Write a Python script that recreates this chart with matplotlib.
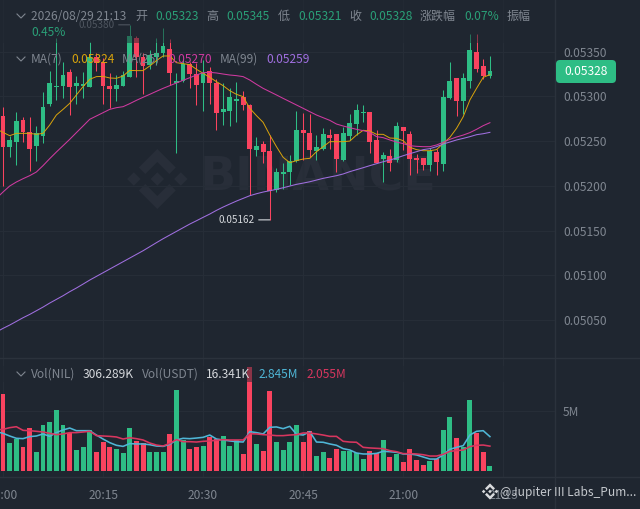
import matplotlib
matplotlib.use('Agg')
import matplotlib.pyplot as plt
from matplotlib.patches import FancyBboxPatch, Polygon, Rectangle
import numpy as np

plt.rcParams['font.family'] = ['Noto Sans CJK SC', 'DejaVu Sans']

# Prices are in units of 0.00001
opens = [5278,5243,5249,5274,5260,5245,5256,5291,5310,5312,5327,5312,5312,5311,5344,5338,5312,5308,5312,5322,
         5365,5344,5335,5344,5348,5353,5315,5317,5336,5325,5315,5328,5315,5283,5284,5295,5299,5290,5240,5247,
         5239,5195,5213,5215,5228,5262,5259,5239,5241,5257,5258,5229,5256,5269,5281,5283,5251,5230,5233,5229,
         5266,5258,5231,5231,5223,5238,5224,5298,5321,5295,5317,5350,5334,5323]
highs = [5288,5256,5283,5277,5277,5267,5305,5328,5365,5338,5331,5323,5327,5361,5348,5343,5326,5324,5328,5380,
         5368,5348,5352,5365,5377,5364,5326,5341,5339,5337,5341,5333,5320,5315,5309,5316,5306,5291,5255,5250,
         5257,5220,5226,5234,5284,5281,5280,5257,5265,5264,5258,5266,5280,5292,5290,5283,5263,5238,5241,5271,
         5266,5261,5236,5231,5242,5241,5307,5338,5321,5326,5370,5370,5342,5345]
lows = [5200,5232,5223,5249,5217,5228,5248,5289,5296,5298,5279,5291,5298,5311,5328,5292,5287,5295,5312,5322,
        5322,5303,5331,5335,5344,5313,5237,5316,5309,5290,5284,5291,5263,5268,5267,5271,5285,5190,5233,5225,
        5162,5193,5196,5201,5227,5229,5232,5229,5240,5241,5215,5228,5251,5257,5271,5237,5225,5204,5217,5227,
        5240,5212,5214,5218,5217,5212,5217,5297,5278,5280,5309,5327,5319,5321]
closes = [5243,5251,5273,5260,5241,5259,5288,5315,5312,5324,5311,5315,5314,5344,5337,5312,5308,5313,5324,5367,
          5344,5334,5346,5349,5356,5326,5317,5336,5325,5313,5326,5315,5282,5286,5299,5297,5290,5241,5245,5238,
          5194,5215,5215,5228,5262,5259,5240,5243,5258,5254,5230,5259,5270,5285,5283,5249,5226,5234,5226,5267,
          5261,5230,5229,5223,5239,5227,5299,5317,5295,5321,5352,5331,5323,5328]
# Moving averages start one minute before the first visible candle
ma7 = [5263.6,5259.8,5256.1,5258.7,5258.7,5258.7,5257.6,5258.7,5268,5279.2,5285.5,5292.2,5301.6,5310.9,5319.1,5322.1,5322.4,
       5320.6,5320.2,5322.8,5329.1,5328.8,5328.8,5334,5340,5345.2,5345.2,5337.7,5336.6,5335.5,5330.3,5325.8,5321.3,
       5316.5,5312,5306.4,5302.3,5299.7,5286.7,5278.5,5271,5256.8,5243.8,5231.9,5225.9,5228.2,5230,5230.8,5238.2,
       5243.8,5249.4,5249.4,5249.4,5250.1,5256.8,5262.1,5261.3,5257.6,5257.6,5253.5,5253.1,5250.5,5243.1,5240.5,
       5239.3,5239.3,5240.5,5247.5,5254.2,5264.3,5277.3,5296,5309,5321.3,5324.3]
ma25 = [5186,5193.1,5199.8,5204.3,5208,5211.4,5215.5,5222.6,5230.4,5237.8,5244.9,5252,5259.5,5266.9,5274.4,5278.1,5281.8,
        5285.5,5287.4,5288.5,5291.9,5295.6,5299,5302.3,5305.7,5309,5312,5315,5318,5320.9,5323.9,5326.5,5326.9,
        5326.2,5325,5323.9,5323.2,5322.1,5318.3,5313.5,5309,5305.3,5301.6,5297.8,5294.1,5290.4,5286.7,5282.9,5279.2,
        5276.2,5273.2,5269.1,5266.9,5265,5263.2,5261.7,5259.8,5255,5253.9,5251.3,5249,5247.2,5244.9,5244.2,5243.8,
        5243.8,5245.7,5248.7,5252,5254.6,5256.8,5259.5,5263.2,5267.3,5270.6]
ma99 = [5036.6,5040.7,5044.4,5048.5,5052.6,5056.3,5060.4,5064.5,5069,5073.1,5077.2,5081.7,5085.8,5090.2,5094.7,5098.8,5102.9,
        5107,5111.1,5115.2,5119.3,5123.4,5127.5,5132,5136.5,5140.9,5145,5149.1,5153.2,5157.3,5161,5164.8,5168.5,
        5172.6,5176.3,5179.7,5183,5186,5189,5191.2,5193.1,5194.6,5196.1,5197.9,5199.8,5201.7,5203.1,5204.6,5206.5,
        5208.4,5209.9,5211.4,5213.3,5215.9,5218.1,5220.3,5222.6,5224.8,5227,5228.9,5231.1,5233.7,5236,5238.2,5240.5,
        5241.6,5243.8,5246.8,5249,5251.3,5253.1,5255,5257.2,5258.3,5259.8]
# Volume in millions
volume = [6.35,2.29,2.62,1.99,3.56,1.60,3.81,4.06,5.08,3.81,3.18,1.74,1.99,3.40,1.57,2.43,1.99,1.85,1.52,3.56,
          2.49,2.29,1.55,1.55,1.55,3.09,6.69,2.57,1.80,1.96,2.10,2.79,2.65,2.90,2.07,2.57,1.44,8.65,2.21,1.69,
          6.63,2.43,1.77,2.40,3.84,2.43,3.31,1.27,1.55,1.10,1.82,1.63,1.69,1.46,0.99,1.66,1.46,2.54,1.19,1.38,
          0.75,1.80,0.91,0.50,0.83,0.99,3.40,4.48,2.73,2.02,5.88,3.18,1.60,0.39]
vol_ma_blue = [3.27,3.12,2.90,2.71,2.68,2.85,2.90,3.07,2.87,3.18,3.40,3.56,3.34,3.34,3.34,2.98,2.65,2.35,2.13,2.04,2.27,
               2.24,2.24,2.18,2.07,2.04,2.21,2.57,2.71,2.68,2.73,2.79,2.98,2.65,2.57,2.49,2.43,2.40,3.26,3.18,3.07,
               3.62,3.65,3.51,3.70,3.04,2.98,3.26,2.40,2.38,2.24,2.13,1.85,1.74,1.49,1.41,1.41,1.46,1.63,1.60,1.55,
               1.41,1.41,1.33,1.16,0.99,0.99,1.33,1.80,1.96,2.10,2.98,3.29,3.34,2.85]
vol_ma_red = [3.40,3.45,3.59,3.67,3.37,3.34,3.29,3.23,3.12,3.01,3.07,3.18,3.18,3.23,3.29,2.93,2.90,2.87,2.82,2.65,2.76,
              2.68,2.57,2.32,2.15,2.07,2.29,2.60,2.43,2.43,2.40,2.46,2.49,2.54,2.60,2.57,2.57,2.57,3.09,3.07,3.01,
              2.98,2.93,2.93,2.98,3.01,3.15,3.15,3.07,2.98,2.87,2.87,2.46,2.40,2.38,1.96,1.91,1.88,1.85,1.69,1.60,
              1.44,1.44,1.41,1.35,1.24,1.24,1.38,1.63,1.69,1.74,2.02,2.13,2.15,2.06]
price_ticks = [5050,5100,5150,5200,5250,5300,5350]
price_tick_labels = ['0.05050','0.05100','0.05150','0.05200','0.05250','0.05300','0.05350']
time_ticks = [0,15,30,45,60,75]
time_labels = ['20:00','20:15','20:30','20:45','21:00','21:15']

BG = '#1f2630'; GRID = '#262d37'; SEP = '#2b323c'
UP = '#2ebd85'; DOWN = '#f9435f'; GREY = '#7f8690'
VALG = '#2a9f77'
FS = 8.64

W, H = 640, 509
fig = plt.figure(figsize=(6.4, 5.09), dpi=100, facecolor=BG)

def rect(top, bottom, right=555):
    return [0, (H - bottom) / H, right / W, (bottom - top) / H]

under = fig.add_axes([0, 0, 1, 1], zorder=0, facecolor=BG)
under.set_xlim(0, W); under.set_ylim(H, 0); under.axis('off')
ax = fig.add_axes(rect(0, 358), zorder=1, facecolor='none')
vax = fig.add_axes(rect(358, 476.7), zorder=1, facecolor='none')
top = fig.add_axes([0, 0, 1, 1], zorder=3, facecolor='none')
top.set_xlim(0, W); top.set_ylim(H, 0); top.axis('off')

def logo(a, cx, cy, s, color, z=1):
    for dx in (-23.5, 0, 23.5):
        a.add_patch(Polygon([(cx+(dx)*s, cy-6.7*s), (cx+(dx+6.7)*s, cy), (cx+dx*s, cy+6.7*s), (cx+(dx-6.7)*s, cy)],
                            closed=True, fc=color, ec='none', zorder=z))
    for sg in (-1, 1):
        a.add_patch(Polygon([(cx, cy+sg*30*s), (cx+18.5*s, cy+sg*11.5*s), (cx+12*s, cy+sg*5*s), (cx, cy+sg*17*s),
                             (cx-12*s, cy+sg*5*s), (cx-18.5*s, cy+sg*11.5*s)],
                            closed=True, fc=color, ec='none', zorder=z))

# watermark below the candles
WM = '#282e39'
logo(under, 157.3, 179, 1.0, WM)
under.text(200, 178, 'BINANCE', color=WM, fontsize=34, fontweight='bold', family='DejaVu Sans', va='center', ha='left')

x = np.arange(len(closes))
x_ma = np.arange(-1, len(closes))
o, h, l, c = map(np.array, (opens, highs, lows, closes))
colors = [UP if cc >= oo else DOWN for oo, cc in zip(o, c)]
ax.vlines(x, l, h, colors=colors, lw=0.75, zorder=2)
ax.bar(x, np.maximum(np.abs(c - o), 1.5), bottom=np.minimum(o, c), width=0.72, color=colors, zorder=3)
ax.plot(x_ma, ma7, color='#d9a40c', lw=0.7, zorder=4)
ax.plot(x_ma, ma25, color='#cf3aa0', lw=0.75, zorder=4)
ax.plot(x_ma, ma99, color='#a06fe0', lw=0.75, zorder=4)
ax.set_ylim(5007.6, 5407.75)
ax.set_yticks(price_ticks, price_tick_labels)

vax.bar(x, volume, width=0.74, color=colors, zorder=3)
vax.plot(x_ma, vol_ma_blue, color='#4fb6d6', lw=1.15, zorder=4)
vax.plot(x_ma, vol_ma_red, color='#d8365f', lw=1.15, zorder=4)
vax.set_ylim(-0.472, 9.362)
vax.set_yticks([5], ['5M'])

for a in (ax, vax):
    a.set_xlim(-0.45, 82.76)
    a.set_xticks(time_ticks)
    a.grid(True, color=GRID, lw=0.9, zorder=0)
    a.set_axisbelow(True)
    for s in a.spines.values():
        s.set_visible(False)
    a.yaxis.tick_right()
    a.tick_params(axis='y', length=0, pad=5.8, labelsize=FS, labelcolor=GREY)
    a.tick_params(axis='x', length=0)
ax.tick_params(axis='x', labelbottom=False)
vax.set_xticklabels(time_labels)
vax.tick_params(axis='x', labelsize=FS, labelcolor=GREY, pad=8.5)

# high / low annotations
ax.annotate('0.05380', xy=(19, 5380), xytext=(-11, 0), textcoords='offset points', color=GREY, fontsize=7.2,
            ha='right', va='center', zorder=5)
ax.annotate('', xy=(19, 5380), xytext=(-8, 0), textcoords='offset points',
            arrowprops=dict(arrowstyle='-', color=GREY, lw=0.8, shrinkA=0, shrinkB=0))
ax.annotate('0.05162', xy=(40, 5162), xytext=(-11, 0), textcoords='offset points', color='#d5d8dc', fontsize=7.2,
            ha='right', va='center', zorder=5)
ax.annotate('', xy=(40, 5162), xytext=(-8, 0), textcoords='offset points',
            arrowprops=dict(arrowstyle='-', color='#d5d8dc', lw=0.8, shrinkA=0, shrinkB=0))

# dim bands behind the legends
top.add_patch(Rectangle((0, 0), 535, 43, fc=BG, ec='none', alpha=0.5, zorder=1))
top.add_patch(Rectangle((0, 366), 535, 16, fc=BG, ec='none', alpha=0.5, zorder=1))

# separators
top.plot([554.7, 554.7], [0, H], color=SEP, lw=1.0, zorder=2)
top.plot([0, W], [358, 358], color=SEP, lw=1.0, zorder=2)
top.plot([0, W], [476.7, 476.7], color=SEP, lw=1.0, zorder=2)

def chevron(cx, cy):
    top.plot([cx-4, cx, cx+4], [cy-2, cy+2, cy-2], color=GREY, lw=0.8, zorder=4)

def label(px, py, s, color=GREY):
    top.text(px, py, s, color=color, fontsize=FS, ha='left', va='center', zorder=5)

chevron(21, 16)
for px, s, col in [(31, '2026/08/29 21:13', GREY), (135, '开', GREY), (155, '0.05323', VALG), (206, '高', GREY),
                   (226, '0.05345', VALG), (278, '低', GREY), (298, '0.05321', VALG), (349, '收', GREY),
                   (369, '0.05328', VALG), (420, '涨跌幅', GREY), (464, '0.07%', VALG), (507, '振幅', GREY)]:
    label(px, 16, s, col)
label(31, 32, '0.45%', VALG)
chevron(21, 59)
for px, s, col in [(31, 'MA(7)', GREY), (71, '0.05324', '#d9a40c'), (122, 'MA(25)', GREY), (168, '0.05270', '#cf3aa0'),
                   (220, 'MA(99)', GREY), (266, '0.05259', '#a06fe0')]:
    label(px, 59, s, col)
chevron(21, 374)
for px, s, col in [(31, 'Vol(NIL)', GREY), (83, '306.289K', '#d5d8dc'), (142, 'Vol(USDT)', GREY), (206, '16.341K', '#d5d8dc'),
                   (259, '2.845M', '#4fb6d6'), (307, '2.055M', '#d8365f')]:
    label(px, 374, s, col)

# last price pill
top.add_patch(FancyBboxPatch((556, 60), 60, 23, boxstyle='round,pad=0,rounding_size=4', fc=UP, ec='none', zorder=4))
top.text(586, 71.5, '0.05328', color='white', fontsize=FS, ha='center', va='center', zorder=5)

# attribution
logo(top, 490, 491.5, 0.27, '#d8dadd', z=6)
top.text(500.5, 492.5, '@Jupiter III Labs_Pum...', color='#c4c8cd', fontsize=8.64, ha='left', va='center', zorder=6)

fig.savefig('out.png', dpi=100, facecolor=BG)
